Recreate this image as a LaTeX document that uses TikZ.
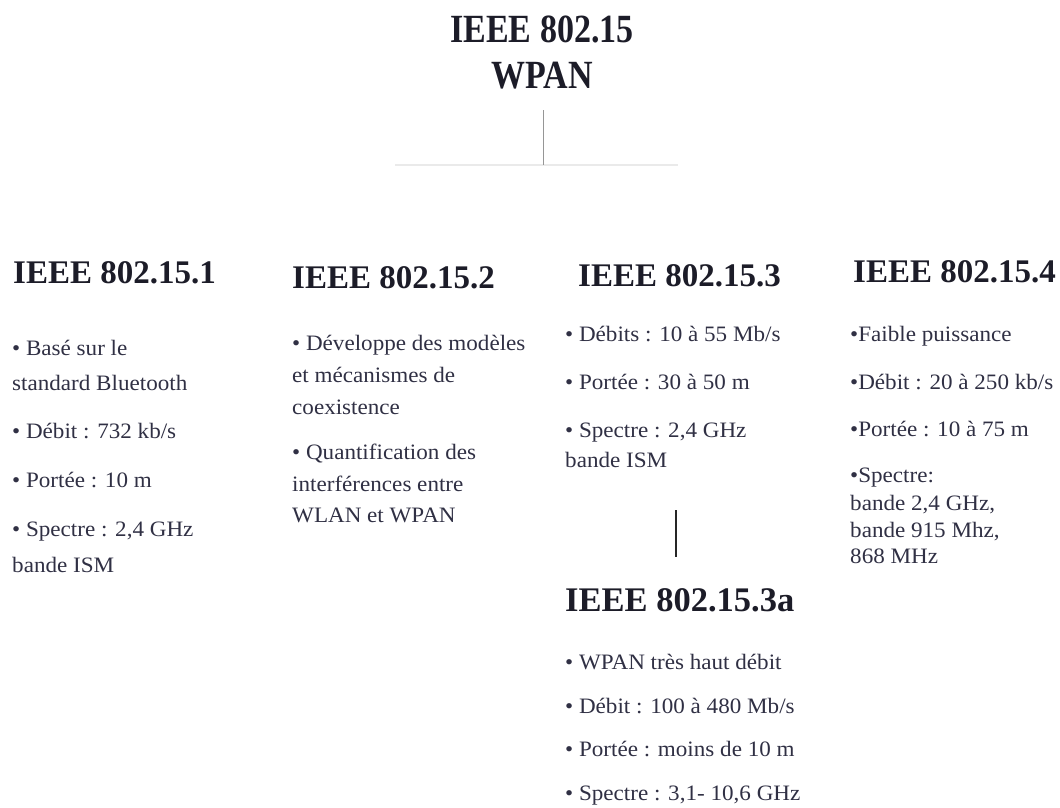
\documentclass[tikz,border=0pt]{standalone}
\usepackage{fontspec}
\setmainfont{Liberation Serif}
\newfontfamily\titlefont[FakeStretch=0.85]{Liberation Serif}
\newfontfamily\headfont[FakeStretch=1.0]{Liberation Serif}
\newfontfamily\bodyfont[FakeStretch=1.05]{Liberation Serif}
\definecolor{headcol}{RGB}{28,28,40}
\definecolor{bodycol}{RGB}{48,48,68}
\definecolor{linegrey}{RGB}{150,150,150}
\definecolor{faintgrey}{RGB}{234,234,234}
\tikzset{
  titletxt/.style={anchor=base, inner sep=0pt, text=headcol, font=\titlefont\bfseries\fontsize{40}{46}\selectfont},
  headtxt/.style={anchor=base west, inner sep=0pt, text=headcol, font=\headfont\bfseries\fontsize{33}{38}\selectfont},
  subheadtxt/.style={anchor=base west, inner sep=0pt, text=headcol, font=\headfont\bfseries\fontsize{34.5}{40}\selectfont},
  bodytxt/.style={anchor=base west, inner sep=0pt, text=bodycol, font=\bodyfont\fontsize{22}{26}\selectfont},
  treeline/.style={draw=linegrey, line width=1pt},
  faintline/.style={draw=faintgrey, line width=1.5pt},
  darkline/.style={draw=black!85, line width=1.3pt}
}
\begin{document}
\begin{tikzpicture}[x=1pt, y=-1pt]
\useasboundingbox[fill=white] (0,0) rectangle (1060,807);
% title
\node[titletxt] (t1) at (542,42) {IEEE 802.15};
\node[titletxt] (t2) at (542,88) {WPAN};
\coordinate (vtop) at (543,110);
\coordinate (hub) at (543,165);
\coordinate (hl) at (395,165);
\coordinate (hr) at (678,165);
\draw[faintline] (hl) -- (hr);
\draw[treeline] (vtop) -- (hub);
% headings
\node[headtxt] (h1) at (13,283) {IEEE 802.15.1};
\node[headtxt] (h2) at (292,288) {IEEE 802.15.2};
\node[headtxt] (h3) at (578,286) {IEEE 802.15.3};
\node[headtxt] (h4) at (853,282) {IEEE 802.15.4};
% column 1
\node[bodytxt] (a1) at (12,355) {• Basé sur le};
\node[bodytxt] (a2) at (12,390) {standard Bluetooth};
\node[bodytxt] (a3) at (12,438) {• Débit : 732 kb/s};
\node[bodytxt] (a4) at (12,487) {• Portée : 10 m};
\node[bodytxt] (a5) at (12,536) {• Spectre : 2,4 GHz};
\node[bodytxt] (a6) at (12,572) {bande ISM};
% column 2
\node[bodytxt] (b1) at (292,350) {• Développe des modèles};
\node[bodytxt] (b2) at (292,382) {et mécanismes de};
\node[bodytxt] (b3) at (292,414) {coexistence};
\node[bodytxt] (b4) at (292,459) {• Quantification des};
\node[bodytxt] (b5) at (292,491) {interférences entre};
\node[bodytxt] (b6) at (292,522) {WLAN et WPAN};
% column 3
\node[bodytxt] (c1) at (565,341) {• Débits : 10 à 55 Mb/s};
\node[bodytxt] (c2) at (565,389) {• Portée : 30 à 50 m};
\node[bodytxt] (c3) at (565,437) {• Spectre : 2,4 GHz};
\node[bodytxt] (c4) at (565,467) {bande ISM};
\coordinate (v3top) at (676,510);
\coordinate (v3bot) at (676,557);
\draw[darkline] (v3top) -- (v3bot);
% 802.15.3a
\node[subheadtxt] (h3a) at (565,611) {IEEE 802.15.3a};
\node[bodytxt] (d1) at (565,669) {• WPAN très haut débit};
\node[bodytxt] (d2) at (565,713) {• Débit : 100 à 480 Mb/s};
\node[bodytxt] (d3) at (565,756) {• Portée : moins de 10 m};
\node[bodytxt] (d4) at (565,800) {• Spectre : 3,1- 10,6 GHz};
% column 4
\node[bodytxt] (e1) at (850,341) {•Faible puissance};
\node[bodytxt] (e2) at (850,389) {•Débit : 20 à 250 kb/s};
\node[bodytxt] (e3) at (850,436) {•Portée : 10 à 75 m};
\node[bodytxt] (e4) at (850,482) {•Spectre:};
\node[bodytxt] (e5) at (850,510) {bande 2,4 GHz,};
\node[bodytxt] (e6) at (850,537) {bande 915 Mhz,};
\node[bodytxt] (e7) at (850,563) {868 MHz};
\end{tikzpicture}
\end{document}
